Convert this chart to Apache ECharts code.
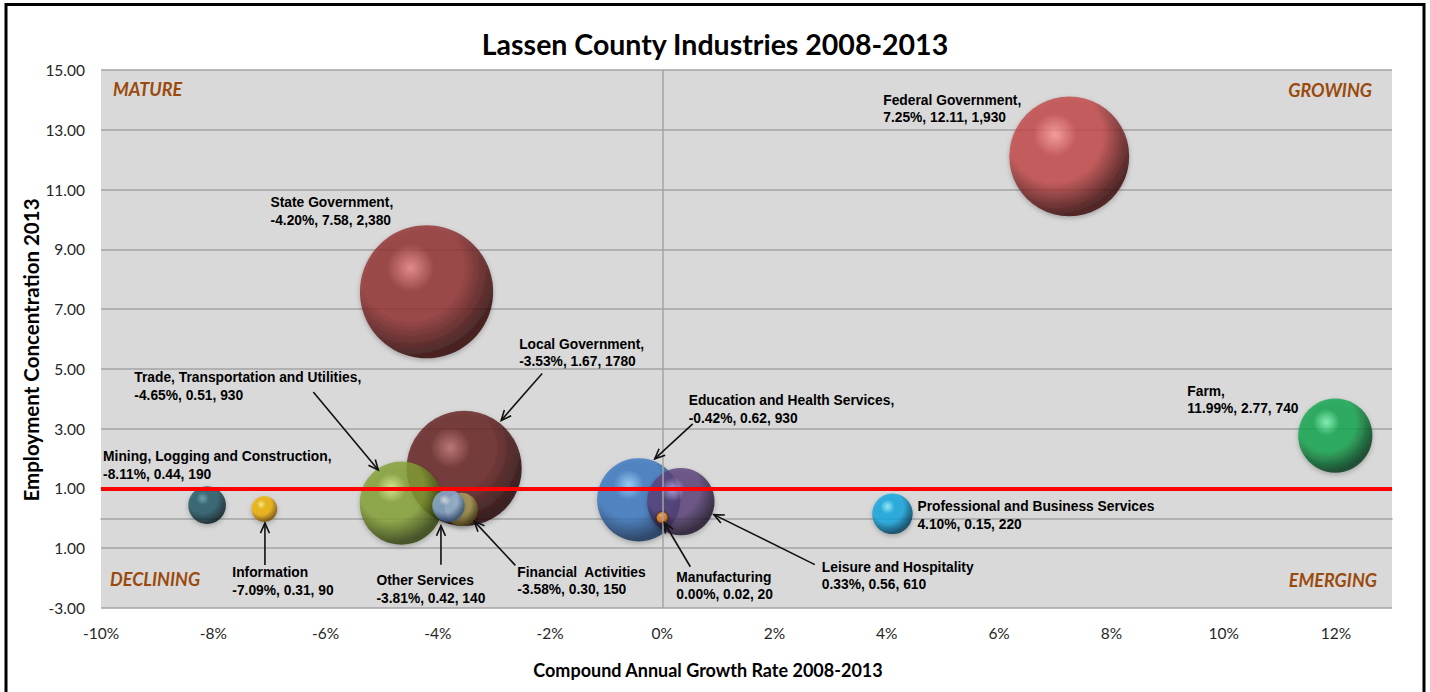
<!DOCTYPE html>
<html>
<head>
<meta charset="utf-8">
<script src="https://cdn.jsdelivr.net/npm/echarts@6/dist/echarts.min.js"></script>
<style>
  html, body { margin: 0; padding: 0; background: #fff; }
  #chart { width: 1430px; height: 692px; }
</style>
</head>
<body>
<div id="chart"></div>
<script>
// ---------- DATA ----------
const industries = ['Mining, Logging and Construction', 'Information', 'Trade, Transportation and Utilities', 'State Government', 'Other Services', 'Financial Activities', 'Local Government', 'Education and Health Services', 'Manufacturing', 'Leisure and Hospitality', 'Professional and Business Services', 'Federal Government', 'Farm'];
const growthRate = [-8.11, -7.09, -4.65, -4.20, -3.81, -3.58, -3.53, -0.42, 0.00, 0.33, 4.10, 7.25, 11.99];
const concentration = [0.44, 0.31, 0.51, 7.58, 0.42, 0.30, 1.67, 0.62, 0.02, 0.56, 0.15, 12.11, 2.77];
const employment = [190, 90, 930, 2380, 140, 150, 1780, 930, 20, 610, 220, 1930, 740];
const labelLines = [
  ['Mining, Logging and Construction,', '-8.11%, 0.44, 190'],
  ['Information', '-7.09%, 0.31, 90'],
  ['Trade, Transportation and Utilities,', '-4.65%, 0.51, 930'],
  ['State Government,', '-4.20%, 7.58, 2,380'],
  ['Other Services', '-3.81%, 0.42, 140'],
  ['Financial  Activities', '-3.58%, 0.30, 150'],
  ['Local Government,', '-3.53%, 1.67, 1780'],
  ['Education and Health Services,', '-0.42%, 0.62, 930'],
  ['Manufacturing', '0.00%, 0.02, 20'],
  ['Leisure and Hospitality', '0.33%, 0.56, 610'],
  ['Professional and Business Services', '4.10%, 0.15, 220'],
  ['Federal Government,', '7.25%, 12.11, 1,930'],
  ['Farm,', '11.99%, 2.77, 740']
];
const xTickLabels = ['-10%', '-8%', '-6%', '-4%', '-2%', '0%', '2%', '4%', '6%', '8%', '10%', '12%'];
const yTickLabels = ['-3.00', '1.00', '1.00', '3.00', '5.00', '7.00', '9.00', '11.00', '13.00', '15.00'];
const quadrantLabels = ['MATURE', 'GROWING', 'DECLINING', 'EMERGING'];
const benchmark = 1;

// ---------- STYLE ----------
const X_MIN = -10, X_MAX = 13, X_STEP = 2;
const Y_MIN = -3, Y_MAX = 15, Y_STEP = 2;
const BUBBLE_K = 2.73;
// [highlight, base, dark]
const sphereColors = [
  ['#5e9aaa', '#1f5666', '#061c22'],
  ['#fff27a', '#eeb000', '#7a5000'],
  ['#d6f086', '#84a032', '#2e3e08'],
  ['#e88080', '#922f2f', '#300606'],
  ['#eef6ff', '#8eb0d8', '#34547e'],
  ['#eee4a0', '#b2a65e', '#544a1e'],
  ['#b86868', '#641e1e', '#200202'],
  ['#90ccfc', '#3a78c2', '#112f58'],
  ['#ffd08a', '#f29436', '#8a4808'],
  ['#c6aee6', '#5a427a', '#1c1028'],
  ['#8af0ff', '#0ca6e0', '#023e5e'],
  ['#ff9494', '#c44848', '#3c0808'],
  ['#78f6ae', '#0ea64e', '#023a16']
];
// label offsets: [dx to left edge, dy to first line centre] from bubble centre (px)
const labelOffsets = [[-104, -48], [-32, 64], [-267, -125], [-156, -89], [-72, 75], [56, 63], [55, -124], [50, -99], [14, 60], [141, 66], [25, -7], [-186, -56], [-148, -44]];
// arrows: [sx, sy, ex, ey] relative to bubble centre (px), null = none
const arrowOffsets = [null, [0.6, 56, 0.6, 14], [-88, -111, -23, -33], null, [-7.5, 59, -7.5, 20], [54, 56, 13, 12], [78, -95, 37, -48], [54, -76, 16, -41], [28, 49, 2, 5], [134, 63, 33, 13], null, null, null];

const order = industries.map((_, i) => i).sort((a, b) => employment[b] - employment[a]);

const bubbleData = order.map(i => ({
  name: industries[i],
  value: [growthRate[i], concentration[i], employment[i]],
  itemStyle: {
    color: {
      type: 'radial', x: 0.38, y: 0.32, r: 0.72,
      colorStops: [
        { offset: 0, color: sphereColors[i][0] },
        { offset: 0.25, color: sphereColors[i][1] },
        { offset: 0.55, color: sphereColors[i][1] },
        { offset: 0.92, color: sphereColors[i][2] },
        { offset: 1, color: sphereColors[i][2] }
      ]
    },
    borderColor: employment[i] < 50 ? 'rgba(40,20,0,0.8)' : 'rgba(0,0,0,0)',
    borderWidth: employment[i] < 50 ? 1 : 0
  }
}));

const annData = industries.map((n, i) => [growthRate[i], concentration[i], i]);

const LABEL_FONT = 'Liberation Sans, Arial, sans-serif';

function renderAnn(params, api) {
  const i = api.value(2);
  const c = api.coord([api.value(0), api.value(1)]);
  const off = labelOffsets[i];
  const children = [{
    type: 'text',
    x: c[0] + off[0],
    y: c[1] + off[1] - 9,
    style: {
      text: labelLines[i].join('\n'),
      fontFamily: LABEL_FONT,
      fontWeight: 'bold',
      fontSize: 13.8,
      lineHeight: 17.5,
      fill: '#000',
      align: 'left',
      verticalAlign: 'top'
    }
  }];
  const a = arrowOffsets[i];
  if (a) {
    const sx = c[0] + a[0], sy = c[1] + a[1], ex = c[0] + a[2], ey = c[1] + a[3];
    const ang = Math.atan2(ey - sy, ex - sx);
    const L = 11, s = 0.42;
    children.push({
      type: 'line', shape: { x1: sx, y1: sy, x2: ex, y2: ey },
      style: { stroke: '#111', lineWidth: 1.6 }
    });
    children.push({
      type: 'polyline',
      shape: { points: [
        [ex - L * Math.cos(ang - s), ey - L * Math.sin(ang - s)],
        [ex, ey],
        [ex - L * Math.cos(ang + s), ey - L * Math.sin(ang + s)]
      ] },
      style: { stroke: '#111', lineWidth: 1.6, fill: null }
    });
  }
  return { type: 'group', children };
}

const QFONT = { fontFamily: 'Lato, "Open Sans", sans-serif', fontWeight: 'bold', fontStyle: 'italic', fontSize: 18, fill: '#9a4a0c' };

const chart = echarts.init(document.getElementById('chart'), null, { renderer: 'svg' });
chart.setOption({
  backgroundColor: '#fff',
  animation: false,
  title: {
    text: 'Lassen County Industries 2008-2013',
    left: 'center', top: 24,
    textStyle: { fontFamily: 'Lato, sans-serif', fontWeight: 'bold', fontSize: 28.5, color: '#000' }
  },
  grid: { left: 101, right: 38, top: 70, bottom: 84, show: true, backgroundColor: '#d9d9d9', borderWidth: 0 },
  xAxis: {
    type: 'value', min: X_MIN, max: X_MAX, interval: X_STEP,
    axisLine: { show: true, lineStyle: { color: '#a3a3a3', width: 1.5 } },
    axisTick: { show: false },
    splitLine: { show: false },
    axisLabel: {
      showMaxLabel: false, margin: 17,
      fontFamily: 'Lato, sans-serif', fontSize: 15.5, color: '#262626',
      formatter: v => xTickLabels[Math.round((v - X_MIN) / X_STEP)] || ''
    }
  },
  yAxis: {
    type: 'value', min: Y_MIN, max: Y_MAX, interval: Y_STEP,
    axisLine: { show: false },
    axisTick: { show: false },
    splitLine: { show: true, lineStyle: { color: '#a3a3a3', width: 1.5 } },
    axisLabel: {
      margin: 16,
      fontFamily: 'Lato, sans-serif', fontSize: 15.5, color: '#262626',
      formatter: v => yTickLabels[Math.round((v - Y_MIN) / Y_STEP)] || ''
    }
  },
  graphic: [
    { type: 'text', left: 113, top: 80, style: Object.assign({ text: quadrantLabels[0] }, QFONT) },
    { type: 'text', right: 58, top: 81, style: Object.assign({ text: quadrantLabels[1] }, QFONT) },
    { type: 'text', left: 110, top: 570, style: Object.assign({ text: quadrantLabels[2] }, QFONT) },
    { type: 'text', right: 53, top: 571, style: Object.assign({ text: quadrantLabels[3] }, QFONT) },
    { type: 'text', x: 31, y: 350, rotation: Math.PI / 2,
      style: { text: 'Employment Concentration 2013', fontFamily: 'Lato, sans-serif', fontWeight: 'bold', fontSize: 20.5, fill: '#000', align: 'center', verticalAlign: 'middle' } },
    { type: 'text', x: 708, y: 670,
      style: { text: 'Compound Annual Growth Rate 2008-2013', fontFamily: 'Lato, sans-serif', fontWeight: 'bold', fontSize: 18, fill: '#000', align: 'center', verticalAlign: 'middle' } },
    { type: 'rect', shape: { x: 6, y: 4.5, width: 1418, height: 720 }, style: { fill: null, stroke: '#000', lineWidth: 3 }, z: 100 }
  ],
  series: [
    {
      type: 'scatter', data: [], z: 1, silent: true,
      markLine: {
        silent: true, symbol: 'none', label: { show: false }, animation: false,
        data: [
          { xAxis: 0, lineStyle: { color: '#a3a3a3', width: 1.5, type: 'solid' } },
          { yAxis: benchmark, lineStyle: { color: '#ff0000', width: 4, type: 'solid' } }
        ]
      }
    },
    {
      type: 'scatter', z: 3,
      data: bubbleData,
      symbolSize: v => BUBBLE_K * Math.sqrt(v[2]),
      itemStyle: { shadowBlur: 5, shadowColor: 'rgba(0,0,0,0.3)', shadowOffsetY: 2 },
      label: { show: false }
    },
    {
      type: 'custom', z: 5, clip: false, silent: true,
      data: annData,
      renderItem: renderAnn
    }
  ]
});
</script>
</body>
</html>
